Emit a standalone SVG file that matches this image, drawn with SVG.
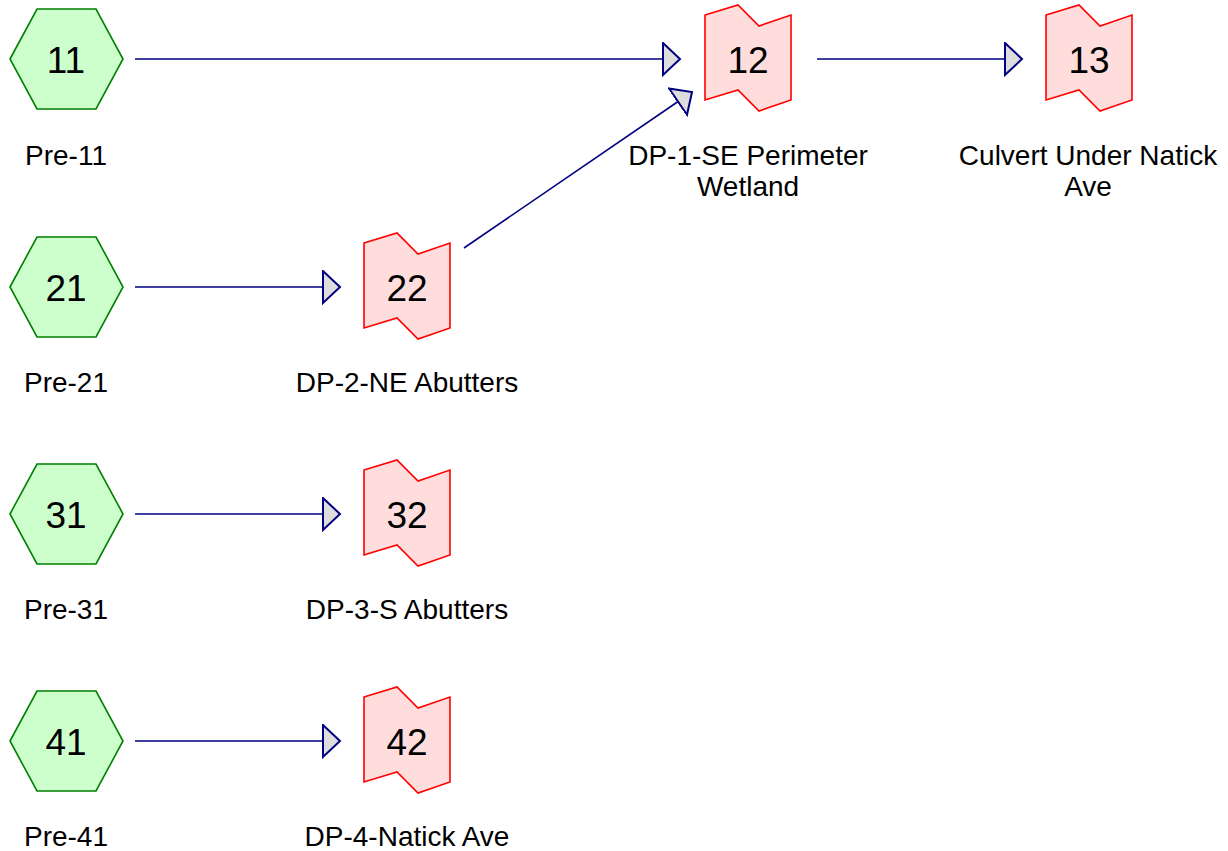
<svg xmlns="http://www.w3.org/2000/svg" width="1228" height="851" viewBox="0 0 1228 851">
<style>
.hex{fill:#ccffcc;stroke:#008000;stroke-width:1.6}
.dp{fill:#ffdddd;stroke:#ff0000;stroke-width:1.6}
.num{font-family:"Liberation Sans",Arial,sans-serif;font-size:37px;fill:#000;text-anchor:middle}
.lbl{font-family:"Liberation Sans",Arial,sans-serif;font-size:28px;fill:#000;text-anchor:middle}
.edge{stroke:#000080;stroke-width:1.6;fill:none;marker-end:url(#arr)}
</style>
<defs>
<marker id="arr" markerUnits="userSpaceOnUse" markerWidth="22" markerHeight="36" refX="18" refY="17" orient="auto">
<path d="M1,1 L18,17 L1,33 Z" fill="#dddddd" stroke="#000080" stroke-width="2" stroke-linejoin="miter"/>
</marker>
<polygon id="hexs" points="-56,0 -29,-50 30,-50 57,0 30,50 -29,50"/>
<polygon id="dps" points="-43,-44 -10,-54 11,-33 43,-44 43,41 11,52 -10,31 -43,41"/>
</defs>
<g id="connectors">
<line class="edge" x1="135" y1="59" x2="680" y2="59"/>
<line class="edge" x1="817" y1="59" x2="1022" y2="59"/>
<line class="edge" x1="464" y1="248" x2="692" y2="92"/>
<line class="edge" x1="135" y1="287" x2="340" y2="287"/>
<line class="edge" x1="135" y1="514" x2="340" y2="514"/>
<line class="edge" x1="135" y1="741" x2="340" y2="741"/>
</g>
<g id="n11"><use href="#hexs" class="hex" x="66" y="59"/><text class="num" x="66" y="73">11</text><text class="lbl" x="66" y="165">Pre-11</text></g>
<g id="n21"><use href="#hexs" class="hex" x="66" y="287"/><text class="num" x="66" y="301">21</text><text class="lbl" x="66" y="392">Pre-21</text></g>
<g id="n31"><use href="#hexs" class="hex" x="66" y="514"/><text class="num" x="66" y="528">31</text><text class="lbl" x="66" y="619">Pre-31</text></g>
<g id="n41"><use href="#hexs" class="hex" x="66" y="741"/><text class="num" x="66" y="755">41</text><text class="lbl" x="66" y="846">Pre-41</text></g>
<g id="n12"><use href="#dps" class="dp" x="748" y="59"/><text class="num" x="748" y="73">12</text><text class="lbl" x="748" y="165">DP-1-SE Perimeter</text><text class="lbl" x="748" y="196">Wetland</text></g>
<g id="n13"><use href="#dps" class="dp" x="1089" y="59"/><text class="num" x="1089" y="73">13</text><text class="lbl" x="1088" y="165">Culvert Under Natick</text><text class="lbl" x="1088" y="196">Ave</text></g>
<g id="n22"><use href="#dps" class="dp" x="407" y="287"/><text class="num" x="407" y="301">22</text><text class="lbl" x="407" y="392">DP-2-NE Abutters</text></g>
<g id="n32"><use href="#dps" class="dp" x="407" y="514"/><text class="num" x="407" y="528">32</text><text class="lbl" x="407" y="619">DP-3-S Abutters</text></g>
<g id="n42"><use href="#dps" class="dp" x="407" y="741"/><text class="num" x="407" y="755">42</text><text class="lbl" x="407" y="846">DP-4-Natick Ave</text></g>
</svg>
